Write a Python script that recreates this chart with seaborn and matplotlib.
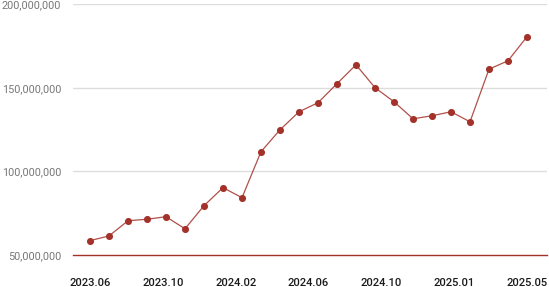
import matplotlib
matplotlib.use("Agg")
import matplotlib.pyplot as plt
import seaborn as sns
import numpy as np
import pandas as pd
from matplotlib.ticker import FuncFormatter

months = ["2023.06", "2023.07", "2023.08", "2023.09", "2023.10", "2023.11", "2023.12",
          "2024.01", "2024.02", "2024.03", "2024.04", "2024.05", "2024.06", "2024.07",
          "2024.08", "2024.09", "2024.10", "2024.11", "2024.12", "2025.01", "2025.02",
          "2025.03", "2025.04", "2025.05"]
values = [58.6e6, 61.4e6, 70.5e6, 71.4e6, 72.9e6, 65.7e6, 79.5e6, 90.3e6, 84.3e6,
          111.8e6, 124.9e6, 135.7e6, 141.1e6, 152.5e6, 163.8e6, 150.1e6, 141.7e6,
          131.5e6, 133.3e6, 135.7e6, 129.7e6, 161.2e6, 166.2e6, 180.6e6]
tick_labels = ["2023.06", "2023.10", "2024.02", "2024.06", "2024.10", "2025.01", "2025.05"]
y_ticks = [50e6, 100e6, 150e6, 200e6]

df = pd.DataFrame({"idx": np.arange(len(months)), "month": months, "value": values})

sns.set_theme(style="white")
plt.rcParams['font.family'] = ['Roboto', 'DejaVu Sans']

red = "#a3322a"
fig = plt.figure(figsize=(5.49, 2.87), dpi=100)
ax = fig.add_axes([73/549, 32/287, (547-73)/549, (255-4.3)/287])

for yv in y_ticks[1:]:
    ax.axhline(yv, color="#dddddd", lw=1.0, zorder=0)

sns.lineplot(data=df, x="idx", y="value", ax=ax, color=red, lw=0.9, alpha=0.85,
             zorder=2)
sns.scatterplot(data=df, x="idx", y="value", ax=ax, color=red, s=26, linewidth=0,
                zorder=3)

ax.set_ylim(50e6, 200e6)
ax.set_xlim(-17/19, 23 + 20/19)
ax.set_yticks(y_ticks)
ax.yaxis.set_major_formatter(FuncFormatter(lambda v, p: f"{int(v):,}"))
ax.set_xticks(np.linspace(0, len(months) - 1, len(tick_labels)))
ax.set_xticklabels(tick_labels)
ax.set_xlabel("")
ax.set_ylabel("")

for s in ["top", "right", "left"]:
    ax.spines[s].set_visible(False)
ax.spines["bottom"].set_color(red)
ax.spines["bottom"].set_linewidth(1.0)

ax.tick_params(axis="y", length=0, pad=8.5, labelsize=7.8, labelcolor="#777777")
ax.tick_params(axis="x", length=0, pad=16.5, labelsize=8, labelcolor="#1a1a1a")
for t in ax.get_xticklabels():
    t.set_fontweight("medium")

fig.savefig("out.png", dpi=100)
